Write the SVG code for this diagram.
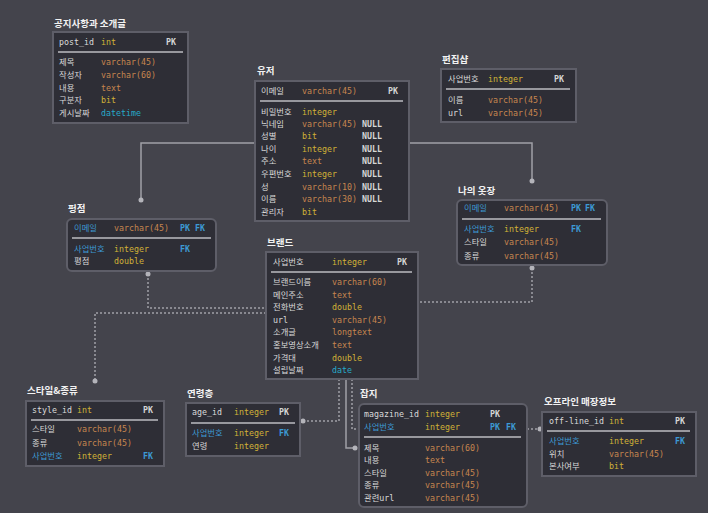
<svg xmlns="http://www.w3.org/2000/svg" width="708" height="513" viewBox="0 0 708 513">
<style>
.bg{fill:#44444c}
.tb{fill:#2e2e36;stroke:#5e5e68;stroke-width:2}
.sep{stroke:#bdbdc2;stroke-width:1.5}
.ttl{font-family:"Noto Sans CJK KR","DejaVu Sans",sans-serif;font-size:9.5px;font-weight:bold;fill:#f2f2f2}
text{font-family:"DejaVu Sans Mono","Noto Sans CJK KR",monospace;font-size:8.3px}
.n{fill:#dadada}
.k{fill:#3d9ad4}
.v{fill:#c6864f}
.i{fill:#d2b237}
.d{fill:#27a9c9}
.p{fill:#d6d6d6;font-weight:bold}
.f{fill:#3d9ad4;font-weight:bold}
.c{fill:none;stroke:#a0a0a6;stroke-width:1.5}
.dt{fill:none;stroke:#a0a0a6;stroke-width:1.5;stroke-dasharray:2 2}
.dot{fill:#b4b4ba}
</style>
<rect class="bg" x="0" y="0" width="708" height="513"/>

<g id="connectors">
<path class="c" d="M255,143 H141 V200"/>
<circle class="dot" cx="141" cy="200" r="2.5"/>
<path class="c" d="M409,143 H532 V181"/>
<circle class="dot" cx="532" cy="181" r="2.5"/>
<path class="dt" d="M148,274 V308 H266"/>
<circle class="dot" cx="148" cy="274" r="2.5"/>
<path class="dt" d="M266,313 H95 V381"/>
<circle class="dot" cx="95" cy="381" r="2.5"/>
<path class="dt" d="M532,268 V302 H418"/>
<circle class="dot" cx="532" cy="268" r="2.5"/>
<path class="dt" d="M339,379 V421 H303"/>
<circle class="dot" cx="303" cy="421" r="2.5"/>
<path class="c" d="M346,379 V448 H355"/>
<circle class="dot" cx="355" cy="448" r="2.5"/>
<path class="dt" d="M352,379 V429 H359"/>
<path class="dt" d="M527,429 H540"/>
<circle class="dot" cx="540" cy="429" r="2.5"/>
</g>

<g id="notice">
<text class="ttl" x="54" y="27">공지사항과 소개글</text>
<rect class="tb" x="53" y="32" width="135" height="91"/>
<text class="n" x="59" y="45">post_id</text><text class="i" x="101" y="45">int</text><text class="p" x="166" y="45">PK</text>
<line class="sep" x1="58" y1="52" x2="183" y2="52"/>
<text class="n" x="59" y="65">제목</text><text class="v" x="101" y="65">varchar(45)</text>
<text class="n" x="59" y="78">작성자</text><text class="v" x="101" y="78">varchar(60)</text>
<text class="n" x="59" y="91">내용</text><text class="v" x="101" y="91">text</text>
<text class="n" x="59" y="103">구분자</text><text class="i" x="101" y="103">bit</text>
<text class="n" x="59" y="116">게시날짜</text><text class="d" x="101" y="116">datetime</text>
</g>

<g id="user">
<text class="ttl" x="257" y="74">유저</text>
<rect class="tb" x="255" y="81" width="154" height="140"/>
<text class="n" x="261" y="94">이메일</text><text class="v" x="302" y="94">varchar(45)</text><text class="p" x="388" y="94">PK</text>
<line class="sep" x1="260" y1="101" x2="403" y2="101"/>
<text class="n" x="261" y="115">비밀번호</text><text class="i" x="302" y="115">integer</text>
<text class="n" x="261" y="127">닉네임</text><text class="v" x="302" y="127">varchar(45)</text><text class="p" x="362" y="127">NULL</text>
<text class="n" x="261" y="139">성별</text><text class="i" x="302" y="139">bit</text><text class="p" x="362" y="139">NULL</text>
<text class="n" x="261" y="152">나이</text><text class="i" x="302" y="152">integer</text><text class="p" x="362" y="152">NULL</text>
<text class="n" x="261" y="164">주소</text><text class="v" x="302" y="164">text</text><text class="p" x="362" y="164">NULL</text>
<text class="n" x="261" y="177">우편번호</text><text class="i" x="302" y="177">integer</text><text class="p" x="362" y="177">NULL</text>
<text class="n" x="261" y="190">성</text><text class="v" x="302" y="190">varchar(10)</text><text class="p" x="362" y="190">NULL</text>
<text class="n" x="261" y="202">이름</text><text class="v" x="302" y="202">varchar(30)</text><text class="p" x="362" y="202">NULL</text>
<text class="n" x="261" y="215">관리자</text><text class="i" x="302" y="215">bit</text>
</g>

<g id="editshop">
<text class="ttl" x="442" y="63">편집샵</text>
<rect class="tb" x="441" y="69" width="135" height="53"/>
<text class="n" x="448" y="82">사업번호</text><text class="i" x="488" y="82">integer</text><text class="p" x="554" y="82">PK</text>
<line class="sep" x1="446" y1="89" x2="570" y2="89"/>
<text class="n" x="448" y="103">이름</text><text class="v" x="488" y="103">varchar(45)</text>
<text class="n" x="448" y="116">url</text><text class="v" x="488" y="116">varchar(45)</text>
</g>

<g id="rating">
<text class="ttl" x="68" y="212">평점</text>
<rect class="tb" x="67" y="219" width="149" height="52" rx="5"/>
<text class="k" x="74" y="231">이메일</text><text class="v" x="114" y="231">varchar(45)</text><text class="f" x="180" y="231">PK</text><text class="f" x="195" y="231">FK</text>
<line class="sep" x1="72" y1="238" x2="211" y2="238"/>
<text class="k" x="74" y="252">사업번호</text><text class="i" x="114" y="252">integer</text><text class="f" x="180" y="252">FK</text>
<text class="n" x="74" y="264">평점</text><text class="i" x="114" y="264">double</text>
</g>

<g id="closet">
<text class="ttl" x="458" y="194">나의 옷장</text>
<rect class="tb" x="457" y="200" width="150" height="65" rx="5"/>
<text class="k" x="464" y="211">이메일</text><text class="v" x="504" y="211">varchar(45)</text><text class="f" x="571" y="211">PK</text><text class="f" x="585" y="211">FK</text>
<line class="sep" x1="462" y1="219" x2="601" y2="219"/>
<text class="k" x="464" y="232">사업번호</text><text class="i" x="504" y="232">integer</text><text class="f" x="571" y="232">FK</text>
<text class="n" x="464" y="245">스타일</text><text class="v" x="504" y="245">varchar(45)</text>
<text class="n" x="464" y="259">종류</text><text class="v" x="504" y="259">varchar(45)</text>
</g>

<g id="brand">
<text class="ttl" x="267" y="246">브랜드</text>
<rect class="tb" x="266" y="252" width="152" height="127"/>
<text class="n" x="273" y="265">사업번호</text><text class="i" x="332" y="265">integer</text><text class="p" x="397" y="265">PK</text>
<line class="sep" x1="271" y1="272" x2="412" y2="272"/>
<text class="n" x="273" y="285">브랜드이름</text><text class="v" x="332" y="285">varchar(60)</text>
<text class="n" x="273" y="298">메인주소</text><text class="v" x="332" y="298">text</text>
<text class="n" x="273" y="310">전화번호</text><text class="i" x="332" y="310">double</text>
<text class="n" x="273" y="323">url</text><text class="v" x="332" y="323">varchar(45)</text>
<text class="n" x="273" y="335">소개글</text><text class="v" x="332" y="335">longtext</text>
<text class="n" x="273" y="348">홍보영상소개</text><text class="v" x="332" y="348">text</text>
<text class="n" x="273" y="361">가격대</text><text class="i" x="332" y="361">double</text>
<text class="n" x="273" y="373">설립날짜</text><text class="d" x="332" y="373">date</text>
</g>

<g id="style">
<text class="ttl" x="27" y="394">스타일&amp;종류</text>
<rect class="tb" x="26" y="401" width="138" height="65"/>
<text class="n" x="32" y="413">style_id</text><text class="i" x="77" y="413">int</text><text class="p" x="143" y="413">PK</text>
<line class="sep" x1="31" y1="420" x2="158" y2="420"/>
<text class="n" x="32" y="432">스타일</text><text class="v" x="77" y="432">varchar(45)</text>
<text class="n" x="32" y="446">종류</text><text class="v" x="77" y="446">varchar(45)</text>
<text class="k" x="32" y="459">사업번호</text><text class="i" x="77" y="459">integer</text><text class="f" x="143" y="459">FK</text>
</g>

<g id="age">
<text class="ttl" x="187" y="397">연령층</text>
<rect class="tb" x="186" y="403" width="114" height="53"/>
<text class="n" x="192" y="415">age_id</text><text class="i" x="234" y="415">integer</text><text class="p" x="279" y="415">PK</text>
<line class="sep" x1="191" y1="423" x2="295" y2="423"/>
<text class="k" x="192" y="436">사업번호</text><text class="i" x="234" y="436">integer</text><text class="f" x="279" y="436">FK</text>
<text class="n" x="192" y="449">연령</text><text class="i" x="234" y="449">integer</text>
</g>

<g id="magazine">
<text class="ttl" x="360" y="397">잡지</text>
<rect class="tb" x="359" y="404" width="168" height="103" rx="5"/>
<text class="n" x="364" y="417">magazine_id</text><text class="i" x="425" y="417">integer</text><text class="p" x="490" y="417">PK</text>
<text class="k" x="364" y="430">사업번호</text><text class="i" x="425" y="430">integer</text><text class="f" x="490" y="430">PK</text><text class="f" x="506" y="430">FK</text>
<line class="sep" x1="364" y1="437" x2="521" y2="437"/>
<text class="n" x="364" y="451">제목</text><text class="v" x="425" y="451">varchar(60)</text>
<text class="n" x="364" y="463">내용</text><text class="v" x="425" y="463">text</text>
<text class="n" x="364" y="476">스타일</text><text class="v" x="425" y="476">varchar(45)</text>
<text class="n" x="364" y="488">종류</text><text class="v" x="425" y="488">varchar(45)</text>
<text class="n" x="364" y="501">관련url</text><text class="v" x="425" y="501">varchar(45)</text>
</g>

<g id="offline">
<text class="ttl" x="544" y="405">오프라인 매장정보</text>
<rect class="tb" x="542" y="412" width="154" height="64"/>
<text class="n" x="549" y="424">off-line_id</text><text class="i" x="609" y="424">int</text><text class="p" x="675" y="424">PK</text>
<line class="sep" x1="547" y1="431" x2="690" y2="431"/>
<text class="k" x="549" y="444">사업번호</text><text class="i" x="609" y="444">integer</text><text class="f" x="675" y="444">FK</text>
<text class="n" x="549" y="457">위치</text><text class="v" x="609" y="457">varchar(45)</text>
<text class="n" x="549" y="469">본사여부</text><text class="i" x="609" y="469">bit</text>
</g>
</svg>
